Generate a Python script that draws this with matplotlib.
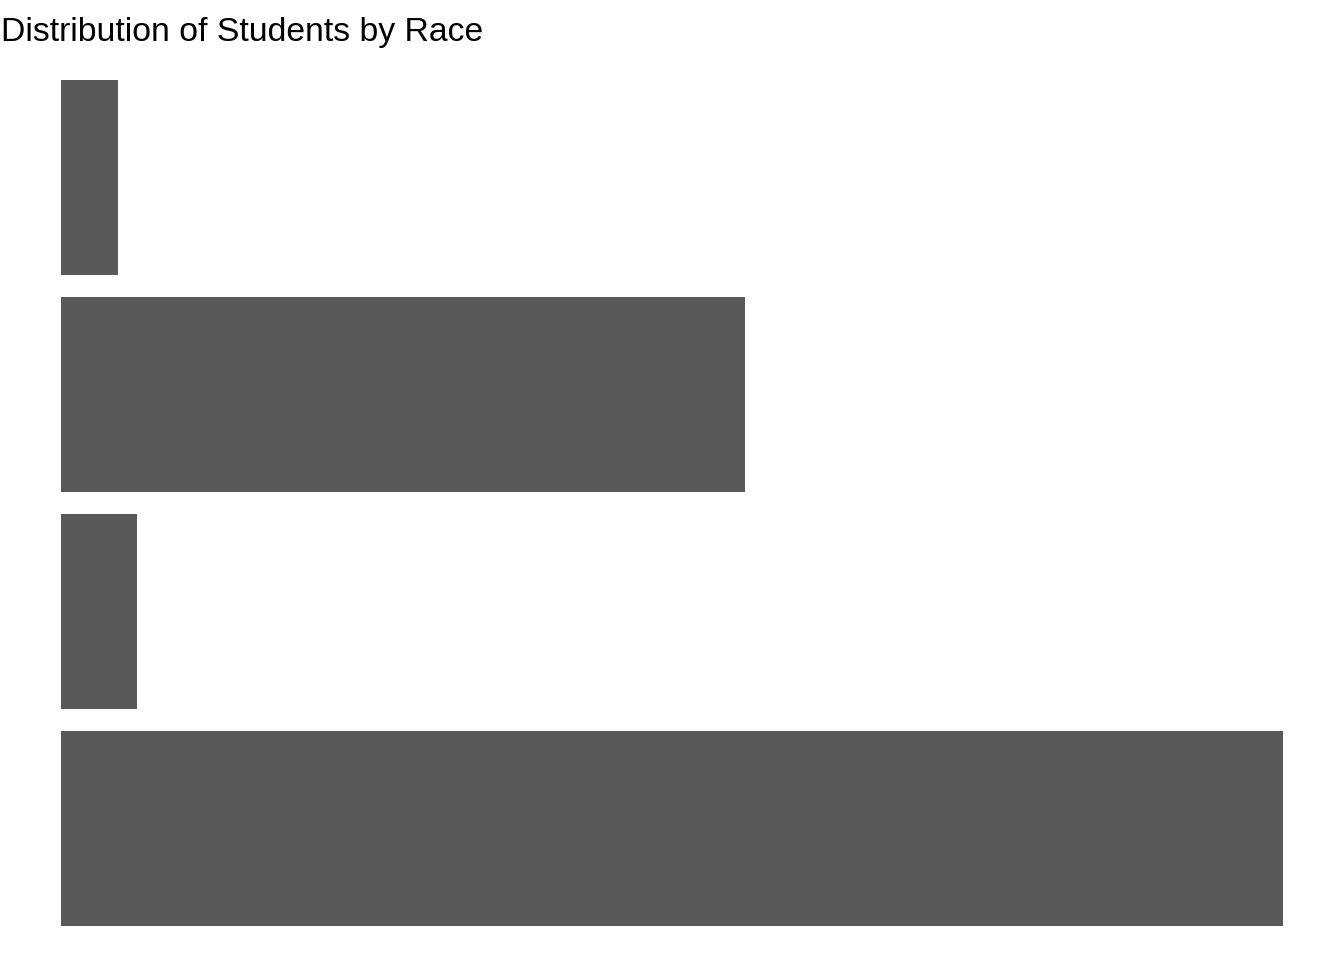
import matplotlib
matplotlib.use("Agg")
import matplotlib.pyplot as plt

# Data (top to bottom as displayed); labels are not shown in the chart
categories = ["Group A", "Group B", "Group C", "Group D"]
counts = [57, 683, 76, 1221]

plt.rcParams['font.family'] = ['Liberation Sans', 'DejaVu Sans']

fig = plt.figure(figsize=(13.44, 9.6), dpi=100)
ax = fig.add_axes([0, 1/960, 1, 912/960])

n = len(categories)
ypos = list(range(n, 0, -1))  # top category at highest position
ax.barh(ypos, counts, height=0.9, color="#595959", edgecolor="none")

vmax = max(counts)
ax.set_xlim(-0.05 * vmax, 1.05 * vmax)
ax.set_ylim(0.4, n + 0.6)
ax.axis("off")

fig.text(1/1344, 1 - 41.5/960, "Distribution of Students by Race", fontsize=24.3,
         ha="left", va="baseline", color="black")

fig.savefig("out.png", dpi=100, facecolor="white")
